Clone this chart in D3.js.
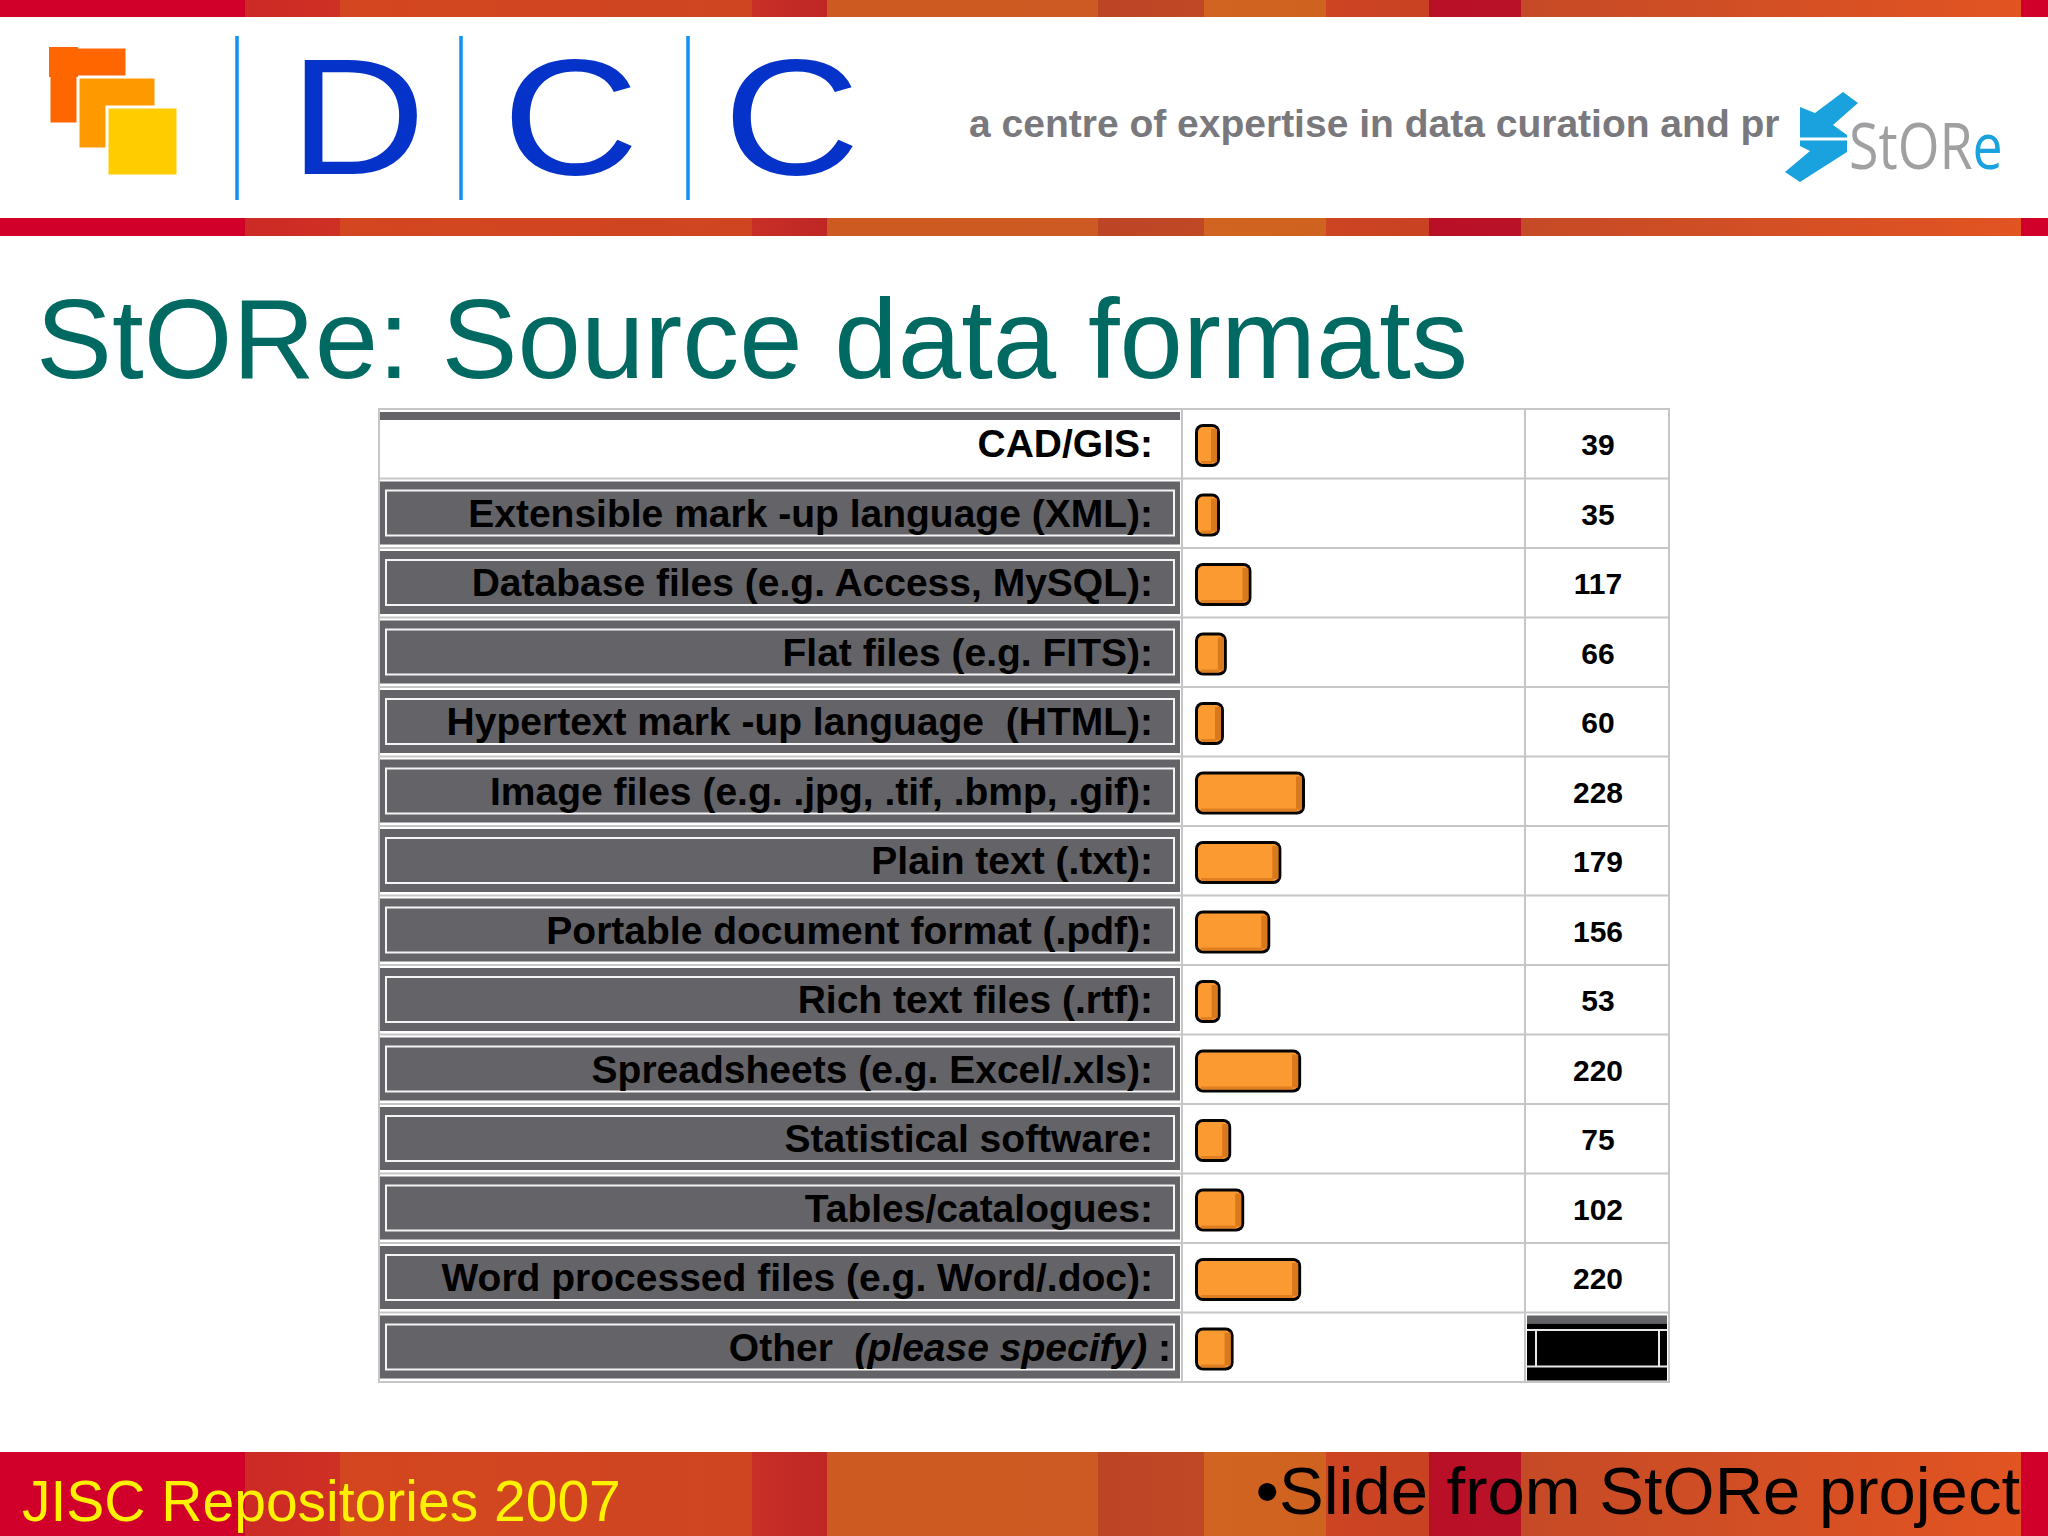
<!DOCTYPE html>
<html><head><meta charset="utf-8">
<script src="https://cdn.jsdelivr.net/npm/d3@7"></script>
<style>html,body{margin:0;padding:0;background:#fff;} svg{display:block;} text{white-space:pre;}</style>
</head><body>
<svg id="c" width="2048" height="1536"></svg>
<script>
// ---- data ----
const categories = [
  "CAD/GIS:",
  "Extensible mark -up language (XML):",
  "Database files (e.g. Access, MySQL):",
  "Flat files (e.g. FITS):",
  "Hypertext mark -up language  (HTML):",
  "Image files (e.g. .jpg, .tif, .bmp, .gif):",
  "Plain text (.txt):",
  "Portable document format (.pdf):",
  "Rich text files (.rtf):",
  "Spreadsheets (e.g. Excel/.xls):",
  "Statistical software:",
  "Tables/catalogues:",
  "Word processed files (e.g. Word/.doc):",
  "Other  (please specify) :"
];
const values = [39, 35, 117, 66, 60, 228, 179, 156, 53, 220, 75, 102, 220, 80];
const valueLabels = ["39", "35", "117", "66", "60", "228", "179", "156", "53", "220", "75", "102", "220", null];
const titleText = "StORe: Source data formats";
const taglineText = "a centre of expertise in data curation and pr";
const footerLeft = "JISC Repositories 2007";
const footerRight = "\u2022Slide from StORe project";
const logoLetters = ["D", "C", "C"];

// ---- decoration ----
const stripes = [
  [0, 245, "#d1002a", "#d1002a"],
  [245, 340, "#cc2a26", "#cf3024"],
  [340, 752, "#d3461f", "#cf4522"],
  [752, 827, "#c82f26", "#bf2726"],
  [827, 1098, "#cd5a21", "#cc5a22"],
  [1098, 1204, "#bd4526", "#c04826"],
  [1204, 1326, "#d16420", "#d06220"],
  [1326, 1429, "#cc4422", "#c94222"],
  [1429, 1521, "#b90f27", "#b91228"],
  [1521, 2021, "#c54a26", "#e25422"],
  [2021, 2048, "#d1002a", "#d1002a"]
];

const svg = d3.select("#c");
const defs = svg.append("defs");
stripes.forEach((s, i) => {
  const lg = defs.append("linearGradient").attr("id", "sg" + i).attr("x1", "0").attr("x2", "1").attr("y1", "0").attr("y2", "0");
  lg.append("stop").attr("offset", "0").attr("stop-color", s[2]);
  lg.append("stop").attr("offset", "1").attr("stop-color", s[3]);
});
function band(y, h) {
  const g = svg.append("g");
  g.selectAll("rect").data(stripes).join("rect")
    .attr("x", d => d[0]).attr("width", d => d[1] - d[0] + 0.5)
    .attr("y", y).attr("height", h)
    .attr("fill", (d, i) => "url(#sg" + i + ")");
}
band(0, 17);
band(218, 18);
band(1452, 84);

// ---- DCC logo ----
const sq = [[49, 47, 78, 77, "#ff6600"], [78, 77, 78, 72, "#ff9900"], [107, 107, 71, 69, "#ffcc00"]];
svg.append("g").selectAll("rect").data(sq).join("rect")
  .attr("x", d => d[0]).attr("y", d => d[1]).attr("width", d => d[2]).attr("height", d => d[3])
  .attr("fill", d => d[4]).attr("stroke", "#fff").attr("stroke-width", 3);
svg.append("rect").attr("x", 49).attr("y", 47).attr("width", 29).attr("height", 30).attr("fill", "#ff6600");

const sepX = [237, 461, 688];
svg.append("g").selectAll("line").data(sepX).join("line")
  .attr("x1", d => d).attr("x2", d => d).attr("y1", 36).attr("y2", 200)
  .attr("stroke", "#1190f5").attr("stroke-width", 3.5);
const letterX = [357.5, 570.5, 791.5];
svg.append("g").selectAll("text").data(logoLetters).join("text")
  .attr("transform", (d, i) => `translate(${letterX[i]},174) scale(1.14,1)`)
  .attr("text-anchor", "middle")
  .attr("font-family", "Liberation Sans, Arial, sans-serif")
  .attr("font-size", 166).attr("fill", "#0533c9").text(d => d);

// tagline
svg.append("text").attr("x", 969).attr("y", 137)
  .attr("font-family", "Liberation Sans, Arial, sans-serif").attr("font-weight", "bold")
  .attr("font-size", 39).attr("fill", "#79787c").text(taglineText);

// StORe logo
const blue = "#19a2dd";
const upper = [[1800,107],[1815,113],[1843,92],[1858,103],[1833,125],[1847,135],[1847,137.5],[1800,137.5]];
const lower = [[1800,140.5],[1847,140.5],[1847,152],[1800,182],[1785,172],[1810,151],[1800,146]];
svg.append("g").selectAll("path").data([upper, lower]).join("path")
  .attr("d", d => d3.line()(d) + "Z").attr("fill", blue);
const st = svg.append("text").attr("transform", "translate(1849,169) scale(0.84,1)")
  .attr("font-family", "Open Sans, Liberation Sans, sans-serif").attr("font-weight", 400)
  .attr("font-size", 64).attr("fill", "#a0a0a2");
st.append("tspan").text("StOR");
st.append("tspan").attr("fill", blue).text("e");

// title
svg.append("text").attr("x", 36).attr("y", 378)
  .attr("font-family", "Liberation Sans, Arial, sans-serif")
  .attr("font-size", 114).attr("fill", "#006a62").text(titleText);

// ---- table ----
const tableLeft = 379, colLabelEnd = 1182, colBarEnd = 1525, tableRight = 1669;
const y = d3.scaleBand().domain(categories).range([409, 1382]).padding(0);
const H = y.bandwidth();
const x = d3.scaleLinear().domain([0, 228]).range([0, 110]);
const rows = categories.map((c, i) => ({ c, v: values[i], lab: valueLabels[i], i }));

const grid = svg.append("g").attr("stroke", "#c6c6c6").attr("stroke-width", 2).attr("fill", "none");
grid.append("rect").attr("x", tableLeft).attr("y", y.range()[0]).attr("width", tableRight - tableLeft).attr("height", y.range()[1] - y.range()[0]);
grid.selectAll("line.h").data(categories.slice(1)).join("line").attr("class", "h")
  .attr("x1", tableLeft).attr("x2", tableRight).attr("y1", d => y(d)).attr("y2", d => y(d));
grid.selectAll("line.v").data([colLabelEnd, colBarEnd]).join("line").attr("class", "v")
  .attr("x1", d => d).attr("x2", d => d).attr("y1", y.range()[0]).attr("y2", y.range()[1]);

// label cells
const gray = "#646367";
const cells = svg.append("g");
cells.selectAll("rect.band").data(rows.filter(r => r.i === 0)).join("rect").attr("class", "band")
  .attr("x", 380).attr("width", 800).attr("y", d => y(d.c) + 3).attr("height", 8).attr("fill", gray);
const btn = cells.selectAll("g.btn").data(rows.filter(r => r.i > 0)).join("g").attr("class", "btn");
btn.append("rect").attr("x", 380).attr("width", 800).attr("y", d => y(d.c) + 3).attr("height", 63).attr("fill", gray);
btn.append("rect").attr("x", 386).attr("width", 788).attr("y", d => y(d.c) + 12).attr("height", 45)
  .attr("fill", "none").attr("stroke", "#f4f4f4").attr("stroke-width", 2);

// label texts
const lbl = svg.append("g").selectAll("text").data(rows).join("text")
  .attr("x", 1153).attr("y", d => y(d.c) + 48)
  .attr("text-anchor", "end")
  .attr("font-family", "Liberation Sans, Arial, sans-serif").attr("font-weight", "bold")
  .attr("font-size", 39).attr("fill", "#000");
lbl.each(function (d) {
  const t = d3.select(this);
  const m = d.c.match(/^(.*?)(\(please specify\))(.*)$/);
  if (m) {
    t.attr("x", 1171);
    t.append("tspan").text(m[1]);
    t.append("tspan").attr("font-style", "italic").text(m[2]);
    t.append("tspan").text(m[3]);
  } else t.text(d.c);
});

// bars
const bw = v => Math.max(25, x(v));
const bars = svg.append("g").selectAll("g").data(rows).join("g")
  .attr("transform", d => `translate(1195,${y(d.c) + 15})`);
bars.append("rect").attr("width", d => bw(d.v)).attr("height", 43).attr("rx", 8).attr("fill", "#050505");
bars.append("rect").attr("x", 3).attr("y", 3).attr("width", d => bw(d.v) - 6).attr("height", 37).attr("rx", 5).attr("fill", "#fa9a31");
bars.append("rect").attr("x", d => bw(d.v) - 9).attr("y", 5).attr("width", 6).attr("height", 33).attr("fill", "#d9791d");
bars.append("rect").attr("x", 6).attr("y", 37).attr("width", d => bw(d.v) - 14).attr("height", 3).attr("fill", "#df7f22");

// value cells
const vc = svg.append("g");
vc.selectAll("text").data(rows.filter(r => r.lab !== null)).join("text")
  .attr("x", (colBarEnd + tableRight) / 2 + 1).attr("y", d => y(d.c) + 46)
  .attr("text-anchor", "middle")
  .attr("font-family", "Liberation Sans, Arial, sans-serif").attr("font-weight", "bold")
  .attr("font-size", 30).attr("fill", "#000").text(d => d.lab);
const blk = vc.selectAll("g.blk").data(rows.filter(r => r.lab === null)).join("g").attr("class", "blk");
blk.append("rect").attr("x", 1527).attr("width", 140).attr("y", d => y(d.c) + 3).attr("height", 8).attr("fill", gray);
blk.append("rect").attr("x", 1527).attr("width", 140).attr("y", d => y(d.c) + 11).attr("height", 57).attr("fill", "#000");
blk.append("line").attr("x1", 1527).attr("x2", 1667).attr("y1", d => y(d.c) + 17.5).attr("y2", d => y(d.c) + 17.5).attr("stroke", "#e8e8e8").attr("stroke-width", 2);
blk.append("line").attr("x1", 1527).attr("x2", 1667).attr("y1", d => y(d.c) + 54).attr("y2", d => y(d.c) + 54).attr("stroke", "#e8e8e8").attr("stroke-width", 2);
blk.append("line").attr("x1", 1536).attr("x2", 1536).attr("y1", d => y(d.c) + 17.5).attr("y2", d => y(d.c) + 54).attr("stroke", "#e8e8e8").attr("stroke-width", 2);
blk.append("line").attr("x1", 1659).attr("x2", 1659).attr("y1", d => y(d.c) + 17.5).attr("y2", d => y(d.c) + 54).attr("stroke", "#e8e8e8").attr("stroke-width", 2);

// footer
svg.append("text").attr("x", 22).attr("y", 1521)
  .attr("font-family", "Liberation Sans, Arial, sans-serif").attr("font-size", 57)
  .attr("fill", "#fff200").text(footerLeft);
svg.append("text").attr("x", 2020).attr("y", 1514).attr("text-anchor", "end")
  .attr("font-family", "Liberation Sans, Arial, sans-serif").attr("font-size", 67)
  .attr("fill", "#000").text(footerRight);
</script>
</body></html>
